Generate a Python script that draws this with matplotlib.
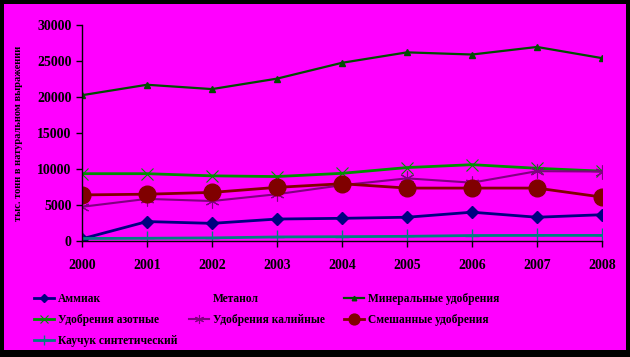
import matplotlib
matplotlib.use("Agg")
import matplotlib.pyplot as plt
from matplotlib.patches import Rectangle

years = [2000, 2001, 2002, 2003, 2004, 2005, 2006, 2007, 2008]
ammonia = [300, 2700, 2450, 3050, 3150, 3300, 4000, 3300, 3650]
methanol = [None] * 9
mineral = [20250, 21700, 21100, 22550, 24750, 26200, 25900, 26950, 25400]
nitrogen = [9350, 9350, 9050, 8950, 9400, 10200, 10600, 10100, 9700]
potash = [4750, 5850, 5550, 6500, 7750, 8700, 8100, 9700, 9650]
mixed = [6400, 6500, 6750, 7450, 7950, 7350, 7350, 7350, 6100]
rubber = [350, 380, 430, 560, 600, 650, 760, 780, 780]
yticks = [0, 5000, 10000, 15000, 20000, 25000, 30000]
ylabel = "тыс. тонн в натуральном выражении"

plt.rcParams['font.family'] = ['Liberation Serif', 'DejaVu Serif']
plt.rcParams['font.weight'] = 'bold'

fig = plt.figure(figsize=(6.3, 3.57), dpi=100, facecolor='black')
fig.patches.append(Rectangle((4/630, 1-350/357), 622/630, 346/357,
                             transform=fig.transFigure, facecolor='#FF00FF',
                             edgecolor='none', zorder=-10))
ax = fig.add_axes([82/630, 1-241/357, 520/630, 216/357])
ax.set_facecolor('none')

h_amm, = ax.plot(years, ammonia, color='#000080', lw=2, marker='D', ms=6, label='Аммиак')
h_met, = ax.plot([], [], linestyle='none', marker='none', label='Метанол')
h_min, = ax.plot(years, mineral, color='#004d00', lw=1.6, marker='^', ms=5, label='Минеральные удобрения')
h_nit, = ax.plot(years, nitrogen, color='#009000', lw=2, marker='x', ms=9, mew=0.8, label='Удобрения азотные')
h_pot, = ax.plot(years, potash, color='#800080', lw=1.5, marker=(6, 2, 0), ms=10, mew=0.8, label='Удобрения калийные')
h_mix, = ax.plot(years, mixed, color='#800000', lw=2, marker='o', ms=12, label='Смешанные удобрения')
h_rub, = ax.plot(years, rubber, color='#008080', lw=2, marker='+', ms=10, mew=1, label='Каучук синтетический')

ax.set_xlim(2000, 2008)
ax.set_ylim(0, 30000)
ax.set_xticks(years)
ax.set_yticks(yticks)
ax.tick_params(axis='both', labelsize=10, colors='black', length=4, width=1)
ax.tick_params(axis='x', pad=9)
for lab in ax.get_xticklabels() + ax.get_yticklabels():
    lab.set_fontweight('bold')
for s in ['top', 'right']:
    ax.spines[s].set_visible(False)
for s in ['left', 'bottom']:
    ax.spines[s].set_color('black')
    ax.spines[s].set_linewidth(1)
ax.set_ylabel(ylabel, fontsize=7.5, fontweight='bold', labelpad=10)

columns = [[h_amm, h_nit, h_rub], [h_met, h_pot], [h_min, h_mix]]
xs = [26, 181, 336]
for hs, x in zip(columns, xs):
    leg = fig.legend(handles=hs, labels=[h.get_label() for h in hs],
                     loc='upper left', bbox_to_anchor=(x/630, 1-285/357), ncol=1,
                     frameon=False, prop={'weight': 'bold', 'size': 8.3},
                     handlelength=1.7, handletextpad=0.35,
                     labelspacing=0.78, markerscale=0.65, borderpad=0.2)

fig.savefig('out.png', dpi=100, facecolor=fig.get_facecolor())
